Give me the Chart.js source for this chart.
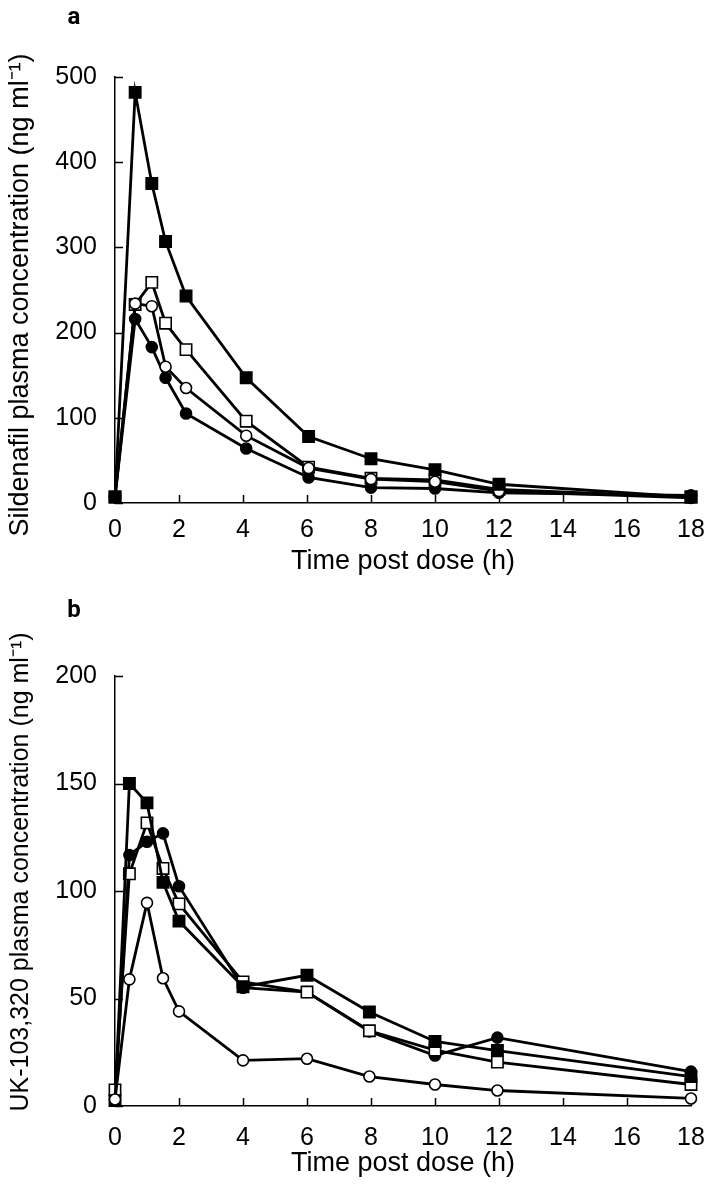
<!DOCTYPE html>
<html>
<head>
<meta charset="utf-8">
<script src="https://cdn.jsdelivr.net/npm/chart.js@4.4.1/dist/chart.umd.min.js"></script>
<style>
  html,body{margin:0;padding:0;background:#fff;}
  .panel{position:relative;width:714px;height:592px;}
  canvas{display:block;}
</style>
</head>
<body>
<div class="panel"><canvas id="ca" width="714" height="592"></canvas></div>
<div class="panel"><canvas id="cb" width="714" height="592"></canvas></div>
<script>
// ---- Panel a data (Sildenafil) ----
const timesA = [0, 0.63, 1.15, 1.58, 2.22, 4.1, 6.05, 8, 10, 12, 18];
const filledSquareA = [7, 482, 375, 307, 243, 147, 78, 52, 39, 22, 7];
const openSquareA   = [7, 233, 259, 211, 180, 96, 42, 29, 27, 16, 7];
const openCircleA   = [7, 234, 231, 160, 135, 79, 41, 28, 25, 14, 6];
const filledCircleA = [7, 216, 183, 147, 105, 64, 30, 18, 17, 12, 9];
const yTicksA = [0, 100, 200, 300, 400, 500];

// ---- Panel b data (UK-103,320) ----
const timesB = [0, 0.45, 1, 1.5, 2, 4, 6, 7.95, 10, 11.95, 18];
const filledSquareB = [2.5, 150, 141, 104, 86, 55.5, 60.8, 43.7, 30, 25.8, 13.7];
const openSquareB   = [7.5, 108, 131.7, 110.5, 94, 57.7, 53, 35, 26, 20.4, 10];
const filledCircleB = [3, 116.7, 122.9, 126.8, 102.2, 55, 53, 34.7, 23.5, 31.8, 16];
const openCircleB   = [3, 58.9, 94.5, 59.4, 44, 21.2, 22, 13.7, 10, 7.2, 3.5];
const yTicksB = [0, 50, 100, 150, 200];

const xTicks = [0, 2, 4, 6, 8, 10, 12, 14, 16, 18];

const titleX = 'Time post dose (h)';
const titleYA = 'Sildenafil plasma concentration (ng ml\u207B\u00B9)';
const titleYB = 'UK-103,320 plasma concentration (ng ml\u207B\u00B9)';
const panelA = 'a';
const panelB = 'b';

const FONT = '"Liberation Sans", Arial, sans-serif';
const BOLDFONT = 'Roboto, "DejaVu Sans", sans-serif';
const FS = 25;

function pts(t, v){ return t.map((x,i)=>({x:x, y:v[i]})); }

function ds(t, v, style, filled, order){
  const isRect = style === 'rect';
  return {
    data: pts(t, v),
    borderColor: '#000',
    borderWidth: 2.8,
    pointStyle: style,
    pointRadius: isRect ? 8 : 5.5,
    pointHoverRadius: isRect ? 8 : 5.5,
    pointBackgroundColor: filled ? '#000' : '#fff',
    pointBorderColor: '#000',
    pointBorderWidth: 1.6,
    fill: false,
    tension: 0,
    clip: false,
    order: order
  };
}

const inwardTicks = {
  id: 'inwardTicks',
  beforeDatasetsDraw(chart){
    const ctx = chart.ctx, a = chart.chartArea;
    const sx = chart.scales.x, sy = chart.scales.y;
    ctx.save();
    ctx.strokeStyle = '#000';
    ctx.lineWidth = 1.5;
    sx.ticks.forEach(t => {
      const p = Math.round(sx.getPixelForValue(t.value)) + 0.5;
      ctx.beginPath(); ctx.moveTo(p, a.bottom); ctx.lineTo(p, a.bottom - 8); ctx.stroke();
    });
    sy.ticks.forEach(t => {
      const p = Math.round(sy.getPixelForValue(t.value)) + 0.5;
      ctx.beginPath(); ctx.moveTo(a.left, p); ctx.lineTo(a.left + 8, p); ctx.stroke();
    });
    ctx.restore();
  }
};

// rotated y-axis title centred at a chosen height, plus the bold panel letter
const textPlugin = {
  id: 'textPlugin',
  afterDraw(chart, args, opts){
    const ctx = chart.ctx;
    ctx.save();
    ctx.fillStyle = '#000';
    ctx.font = 'bold 24px ' + BOLDFONT;
    ctx.textAlign = 'center';
    ctx.textBaseline = 'middle';
    ctx.fillText(opts.letter, opts.lx, opts.ly);
    ctx.translate(opts.x, opts.y);
    ctx.rotate(-Math.PI / 2);
    ctx.font = opts.size + 'px ' + FONT;
    ctx.fillText(opts.text, 0, 0);
    ctx.restore();
  }
};

function makeChart(id, datasets, yMax, yTicks, yTitle, yTitleCenter, yTitleSize, letter, letterY, padTop, xHeight, xTickPad, xTitlePad){
  return new Chart(document.getElementById(id), {
    type: 'line',
    data: { datasets: datasets },
    plugins: [inwardTicks, textPlugin],
    options: {
      responsive: false,
      animation: false,
      devicePixelRatio: 1,
      layout: { padding: { top: padTop, right: 23, left: 0, bottom: 0 } },
      plugins: {
        legend: { display: false },
        tooltip: { enabled: false },
        textPlugin: { text: yTitle, x: 21, y: yTitleCenter, size: yTitleSize, letter: letter, lx: 74, ly: letterY }
      },
      scales: {
        x: {
          type: 'linear', min: 0, max: 18,
          afterBuildTicks: s => { s.ticks = xTicks.map(v => ({value: v})); },
          afterFit: s => { s.height = xHeight; },
          grid: { display: false },
          border: { display: true, color: '#000', width: 1.5 },
          ticks: { color: '#000', padding: xTickPad, font: { family: FONT, size: FS }, maxRotation: 0, autoSkip: false },
          title: { display: true, text: titleX, color: '#000', font: { family: FONT, size: 27 }, padding: { top: 0, bottom: xTitlePad } }
        },
        y: {
          type: 'linear', min: 0, max: yMax,
          afterBuildTicks: s => { s.ticks = yTicks.map(v => ({value: v})); },
          afterFit: s => { s.width = 115; },
          grid: { display: false },
          border: { display: true, color: '#000', width: 1.5 },
          ticks: { color: '#000', padding: 10, font: { family: FONT, size: FS }, autoSkip: false },
          title: { display: false }
        }
      }
    }
  });
}

makeChart('ca', [
  ds(timesA, filledSquareA, 'rect', true, 1),
  ds(timesA, openCircleA, 'circle', false, 2),
  ds(timesA, openSquareA, 'rect', false, 3),
  ds(timesA, filledCircleA, 'circle', true, 4)
], 500, yTicksA, titleYA, 295, 27, panelA, 18, 77, 89, 4, 14);

makeChart('cb', [
  ds(timesB, openCircleB, 'circle', false, 1),
  ds(timesB, filledSquareB, 'rect', true, 2),
  ds(timesB, openSquareB, 'rect', false, 3),
  ds(timesB, filledCircleB, 'circle', true, 4)
], 200, yTicksB, titleYB, 280, 25, panelB, 19, 84, 78, 9, 4);
</script>
</body>
</html>
